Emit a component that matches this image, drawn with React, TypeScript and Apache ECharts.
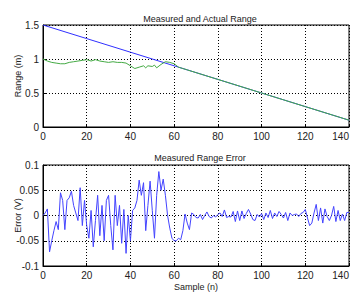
import React, { useEffect, useRef } from "react";
import * as echarts from "echarts";

const xTicks = [0, 20, 40, 60, 80, 100, 120, 140];
const actualRange: [number, number][] = [
  [0, 1.5], [20, 1.3], [40, 1.1], [60, 0.9], [80, 0.7], [100, 0.5], [120, 0.3], [140, 0.1],
];
const measuredRange: [number, number][] = [
  [0, 1.0], [2, 0.97], [4, 0.95], [6, 0.94], [8, 0.93], [10, 0.93], [12, 0.95], [14, 0.96],
  [16, 0.97], [18, 0.98], [20, 0.99], [22, 0.97], [24, 0.99], [26, 0.97], [28, 0.96], [30, 0.95],
  [32, 0.96], [34, 0.95], [36, 0.95], [38, 0.94], [40, 0.9], [42, 0.86], [44, 0.88], [46, 0.9],
  [47, 0.87], [48, 0.9], [50, 0.89], [51, 0.91], [52, 0.87], [54, 0.92], [56, 0.96], [58, 0.95],
  [60, 0.93], [62, 0.88], [64, 0.86], [66, 0.84], [70, 0.8], [75, 0.75], [80, 0.7], [90, 0.6],
  [100, 0.5], [110, 0.4], [120, 0.3], [130, 0.2], [140, 0.1],
];
const errorValues = [
  0.0, 0.005, 0.013, -0.072, -0.05, -0.03, -0.012, -0.028, 0.045, 0.03,
  -0.028, 0.03, 0.035, 0.048, 0.02, 0.005, -0.01, 0.055, -0.02, 0.03,
  -0.02, -0.045, 0.01, -0.062, -0.01, 0.04, -0.04, 0.02, -0.05, 0.03,
  0.04, -0.02, -0.068, 0.04, -0.02, 0.02, -0.055, 0.012, -0.075, 0.0,
  -0.05, 0.01, 0.015, 0.03, 0.07, 0.04, 0.065, -0.03, 0.02, 0.068,
  0.01, -0.045, 0.04, 0.087, 0.05, 0.072, 0.04, 0.0, -0.025, -0.045,
  -0.05, -0.05, -0.045, -0.048, -0.03, 0.003, -0.015, -0.028, 0.005, 0.002,
  -0.004, -0.005, 0.002, -0.008, 0.0, 0.007, -0.002, -0.005, 0.0, -0.003,
  0.002, 0.005, -0.002, 0.011, -0.004, -0.002, -0.003, 0.008, -0.012, 0.009,
  -0.01, 0.009, -0.006, 0.004, 0.012, 0.003, -0.008, -0.01, 0.002, -0.003,
  0.004, -0.008, 0.005, -0.004, 0.01, -0.006, 0.005, -0.002, 0.008, 0.002,
  -0.005, 0.006, -0.01, 0.005, 0.0, 0.002, 0.003, -0.002, 0.004, 0.006,
  0.012, -0.005, -0.02, -0.015, 0.005, 0.022, -0.01, 0.015, -0.015, 0.013,
  -0.002, -0.01, 0.0, 0.018, -0.012, 0.01, -0.01, 0.003, -0.01, 0.006, 0.006,
];

const FONT = "Liberation Sans";
const TXT = "#222";

export default function App() {
  const ref = useRef<HTMLDivElement>(null);
  useEffect(() => {
    const chart = echarts.init(ref.current!, null, { renderer: "svg" });
    const axisCommon = {
      axisLine: { show: true, onZero: false, lineStyle: { color: "#000", width: 1 } },
      axisTick: { show: true, inside: true, length: 3, lineStyle: { color: "#000" } },
      splitLine: { show: true, lineStyle: { color: "#000", type: [1, 2] as any, width: 1 } },
      axisLabel: { color: TXT, fontSize: 10, fontFamily: FONT, margin: 4 },
    };
    const fmtX = (v: number) => String(v);
    chart.setOption({
      animation: false,
      backgroundColor: "#fff",
      title: [
        {
          text: "Measured and Actual Range",
          left: 195, top: 9, textAlign: "center",
          textStyle: { fontSize: 9, fontWeight: "normal", color: TXT, fontFamily: FONT },
        },
        {
          text: "Measured Range Error",
          left: 195, top: 148, textAlign: "center",
          textStyle: { fontSize: 9, fontWeight: "normal", color: TXT, fontFamily: FONT },
        },
      ],
      grid: [
        {
          left: 43, right: 5, top: 25, height: 102, show: true, borderColor: "#000", borderWidth: 1,
          containLabel: false, outerBoundsMode: "none",
        },
        {
          left: 43, right: 5, top: 165, height: 101, show: true, borderColor: "#000", borderWidth: 1,
          containLabel: false, outerBoundsMode: "none",
        },
      ],
      xAxis: [
        {
          ...axisCommon, type: "value", gridIndex: 0, min: 0, max: 140, interval: 20,
          axisLabel: { ...axisCommon.axisLabel, formatter: fmtX, alignMaxLabel: "right" },
        },
        {
          ...axisCommon, type: "value", gridIndex: 1, min: 0, max: 140, interval: 20,
          name: "Sample (n)", nameLocation: "middle", nameGap: 16, nameMoveOverlap: false,
          nameTextStyle: { fontSize: 9, color: TXT, fontFamily: FONT },
          axisLabel: { ...axisCommon.axisLabel, formatter: fmtX, alignMaxLabel: "right" },
        },
      ],
      yAxis: [
        {
          ...axisCommon, type: "value", gridIndex: 0, min: 0, max: 1.5, interval: 0.5,
          name: "Range (m)", nameLocation: "middle", nameGap: 21, nameMoveOverlap: false,
          nameTextStyle: { fontSize: 9, color: TXT, fontFamily: FONT },
          axisLabel: { ...axisCommon.axisLabel, formatter: (v: number) => String(v) },
        },
        {
          ...axisCommon, type: "value", gridIndex: 1, min: -0.1, max: 0.1, interval: 0.05,
          name: "Error (V)", nameLocation: "middle", nameGap: 21, nameMoveOverlap: false,
          nameTextStyle: { fontSize: 9, color: TXT, fontFamily: FONT },
          axisLabel: {
            ...axisCommon.axisLabel,
            formatter: (v: number) => String(Math.round(v * 100) / 100),
          },
        },
      ],
      series: [
        {
          type: "line", xAxisIndex: 0, yAxisIndex: 0, data: actualRange, showSymbol: false,
          lineStyle: { color: "#3030ff", width: 1 },
        },
        {
          type: "line", xAxisIndex: 0, yAxisIndex: 0, data: measuredRange, showSymbol: false,
          lineStyle: { color: "#44aa44", width: 1 },
        },
        {
          type: "line", xAxisIndex: 1, yAxisIndex: 1, showSymbol: false,
          data: errorValues.map((v, i) => [i, v]),
          lineStyle: { color: "#4444ff", width: 1 },
        },
      ],
    });
    return () => chart.dispose();
  }, []);
  return (
    <div
      ref={ref}
      style={{ position: "fixed", left: 0, top: 0, width: 354, height: 293 }}
    />
  );
}
